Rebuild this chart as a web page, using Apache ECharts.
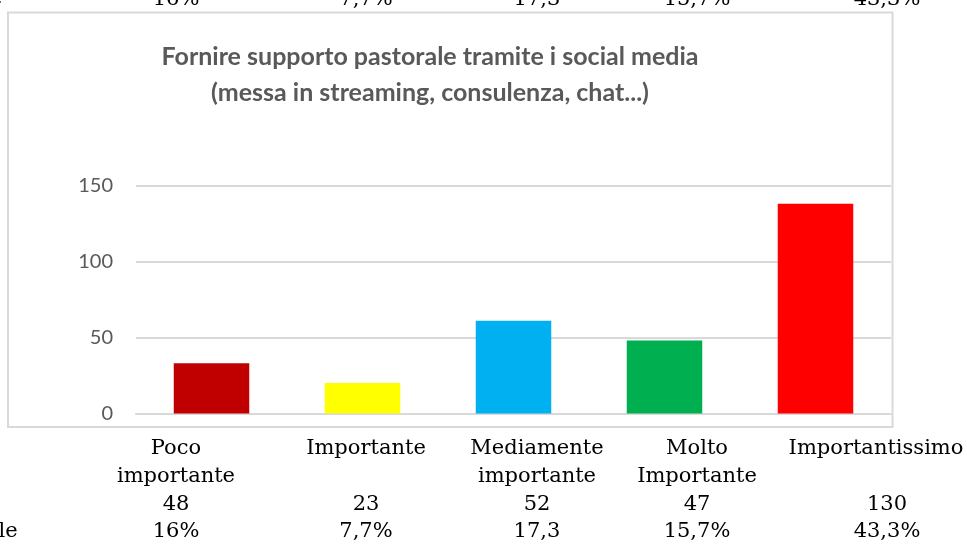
<!DOCTYPE html>
<html>
<head>
<meta charset="utf-8">
<script src="https://cdn.jsdelivr.net/npm/echarts@6/dist/echarts.min.js"></script>
<style>
  html, body { margin: 0; padding: 0; background: #fff; }
  #container { width: 967px; height: 544px; }
</style>
</head>
<body>
<div id="container"></div>
<script>
// categories on the bar chart
var categories = ['Poco importante', 'Importante', 'Mediamente importante', 'Molto Importante', 'Importantissimo']
// bar heights
var barValues = [33, 20, 61, 48, 138]
var barColors = ['#C00000', '#FFFF00', '#00B0F0', '#00B050', '#FF0000']
var yTicks = [0, 50, 100, 150]

// table below the chart
var tableNames = [['Poco', 'importante'], ['Importante', ''], ['Mediamente', 'importante'], ['Molto', 'Importante'], ['Importantissimo', '']]
var tableCounts = ['48', '23', '52', '47', '130']
var tablePercents = ['16%', '7,7%', '17,3', '15,7%', '43,3%']

// layout of the table columns (x centres) and row centres
var colX = [176, 366, 537, 697, 887]
var nameX = [176, 366, 537, 697, 876]
var rowY = [449, 477, 505, 532]

var dom = document.getElementById('container')
var myChart = echarts.init(dom)

var serif = 'DejaVu Serif'
var tableGraphics = []

function addText(x, y, txt) {
    tableGraphics.push({
        type: 'text',
        x: x,
        y: y,
        style: {
            text: txt,
            font: '21px "' + serif + '"',
            fill: '#000',
            align: 'center',
            verticalAlign: 'middle'
        },
        z: 10
    })
}

colX.forEach(function(x, i) {
    addText(nameX[i], rowY[0], tableNames[i][0])
    addText(nameX[i], rowY[1], tableNames[i][1])
    addText(x, rowY[2], tableCounts[i])
    addText(x, rowY[3], tablePercents[i])
    // previous table row, cut off at the top
    addText(x, 0, tablePercents[i])
})
addText(8, rowY[3], 'le')
addText(-4, 0, 'e')

// chart frame
tableGraphics.push({
    type: 'rect',
    shape: {x: 8, y: 12.5, width: 884.5, height: 414.5},
    style: {fill: 'none', stroke: '#d9d9d9', lineWidth: 2},
    z: 0
})

var option = {
    animation: false,
    title: {
        text: 'Fornire supporto pastorale tramite i social media\n(messa in streaming, consulenza, chat...)',
        left: 425,
        top: 34,
        textAlign: 'center',
        textStyle: {
            fontFamily: 'Lato',
            fontWeight: 'bold',
            fontSize: 25,
            color: '#595959',
            lineHeight: 36
        }
    },
    grid: {
        left: 136,
        right: 76,
        top: 185.5,
        bottom: 130.5
    },
    xAxis: {
        type: 'category',
        data: categories,
        axisLine: {show: true, lineStyle: {color: '#d9d9d9', width: 2}},
        axisTick: {show: false},
        axisLabel: {show: false}
    },
    yAxis: {
        type: 'value',
        min: yTicks[0],
        max: yTicks[yTicks.length - 1],
        interval: 50,
        axisLine: {show: false},
        axisTick: {show: false},
        splitLine: {lineStyle: {color: '#d9d9d9', width: 2}},
        axisLabel: {
            margin: 23,
            fontFamily: 'Lato',
            fontSize: 20,
            color: '#595959'
        }
    },
    series: [
        {
            type: 'bar',
            barWidth: '50%',
            data: barValues.map(function(v, i) {
                return {value: v, itemStyle: {color: barColors[i]}}
            })
        }
    ],
    graphic: tableGraphics
}

myChart.setOption(option, true)
</script>
</body>
</html>
